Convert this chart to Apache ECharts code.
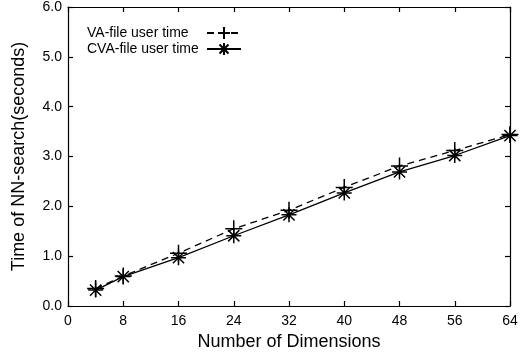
<!DOCTYPE html>
<html><head><meta charset="utf-8">
<script src="https://cdn.jsdelivr.net/npm/echarts@6/dist/echarts.min.js"></script>
<style>html,body{margin:0;padding:0;background:#fff}#c{width:527px;height:354px}</style>
</head><body><div id="c"></div>
<script>
var dims = [4, 8, 16, 24, 32, 40, 48, 56, 64];
var vaUser = [0.35, 0.60, 1.06, 1.55, 1.92, 2.38, 2.81, 3.12, 3.44];
var cvaUser = [0.32, 0.59, 0.97, 1.41, 1.83, 2.27, 2.69, 3.02, 3.42];
var seriesNames = ['VA-file user time', 'CVA-file user time'];
var xTicks = [0, 8, 16, 24, 32, 40, 48, 56, 64];
var yTicks = [0, 1, 2, 3, 4, 5, 6];

var FONT = '"Liberation Sans", Arial, Helvetica, sans-serif';
var plusPath = 'path://M0,-1L0,1M-1,0L1,0';
var starPath = 'path://M0,-1L0,1M-1,0L1,0M-0.75,-0.75L0.75,0.75M-0.75,0.75L0.75,-0.75';

function pairs(xs, ys){ return xs.map(function(x,i){return [x, ys[i]];}); }

var chart = echarts.init(document.getElementById('c'), null, {renderer:'canvas'});
var axisLine = {show:true, onZero:false, lineStyle:{color:'#000', width:1.2}};
var tick = {show:true, inside:true, length:5, lineStyle:{color:'#000', width:1.2}};
chart.setOption({
  animation:false,
  backgroundColor:'#fff',
  grid:{left:68, right:17, top:7, bottom:48, containLabel:false, outerBoundsMode:'none'},
  legend:{
    orient:'vertical', left:82, top:21, align:'right', itemGap:2, itemWidth:34, itemHeight:15,
    formatter:function(n){ return '{a|' + n + '}'; },
    textStyle:{fontFamily:FONT, fontSize:14, color:'#000',
      rich:{a:{fontFamily:FONT, fontSize:14, color:'#000', width:115, align:'left'}}},
    data:seriesNames
  },
  xAxis:[{
    type:'value', min:xTicks[0], max:xTicks[xTicks.length-1], interval:8,
    name:'Number of Dimensions', nameLocation:'middle', nameGap:27,
    nameTextStyle:{fontFamily:FONT, fontSize:18, color:'#000'},
    axisLine:axisLine, axisTick:tick, splitLine:{show:false},
    axisLabel:{fontFamily:FONT, fontSize:14, color:'#000', margin:8}
  },{
    type:'value', position:'top', min:xTicks[0], max:xTicks[xTicks.length-1], interval:8,
    axisLine:axisLine, axisTick:tick, splitLine:{show:false}, axisLabel:{show:false}
  }],
  yAxis:[{
    type:'value', min:yTicks[0], max:yTicks[yTicks.length-1], interval:1,
    name:'Time of NN-search(seconds)', nameLocation:'middle', nameGap:40,
    nameTextStyle:{fontFamily:FONT, fontSize:18, color:'#000'},
    axisLine:axisLine, axisTick:tick, splitLine:{show:false},
    axisLabel:{fontFamily:FONT, fontSize:14, color:'#000', margin:6, formatter:function(v){return v.toFixed(1);}}
  },{
    type:'value', position:'right', min:yTicks[0], max:yTicks[yTicks.length-1], interval:1,
    axisLine:axisLine, axisTick:tick, splitLine:{show:false}, axisLabel:{show:false}
  }],
  series:[{
    name:seriesNames[0], type:'line', data:pairs(dims, vaUser),
    symbol:plusPath, symbolSize:17, showAllSymbol:true,
    lineStyle:{color:'#000', width:1.3, type:[7,5]},
    itemStyle:{color:'#000', borderColor:'#000', borderWidth:1.5}
  },{
    name:seriesNames[1], type:'line', data:pairs(dims, cvaUser),
    symbol:starPath, symbolSize:15, showAllSymbol:true,
    lineStyle:{color:'#000', width:1.3, type:'solid'},
    itemStyle:{color:'#000', borderColor:'#000', borderWidth:1.5}
  }]
});
</script></body></html>
